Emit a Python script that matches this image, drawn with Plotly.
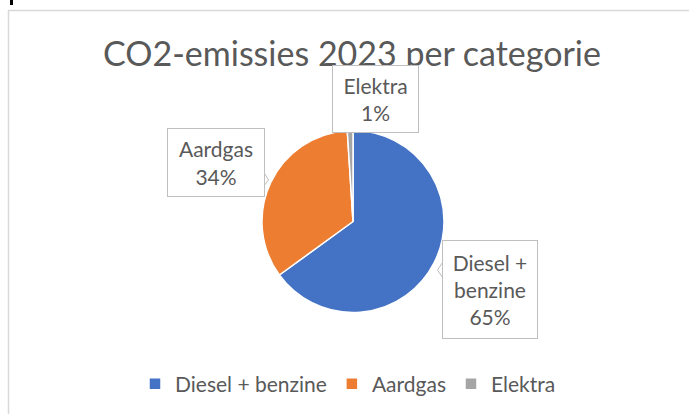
import plotly.graph_objects as go

# Data
categories = ["Diesel + benzine", "Aardgas", "Elektra"]
values = [65, 34, 1]
colors = ["#4472C4", "#ED7D31", "#A5A5A5"]
title_text = "CO2-emissies 2023 per categorie"

W, H = 689, 414
FONT = "Lato"
GREY_TEXT = "#595959"
BOX_LINE = "#BFBFBF"


def px(x):
    return x / W


def py(y):
    return 1 - y / H


# pie geometry (pixels)
cx, cy, r = 353, 221.5, 91

fig = go.Figure()
fig.add_trace(go.Pie(
    labels=categories,
    values=values,
    sort=False,
    direction="clockwise",
    rotation=0,
    marker=dict(colors=colors, line=dict(color="white", width=1.5)),
    textinfo="none",
    domain=dict(x=[px(cx - r), px(cx + r)], y=[py(cy + r), py(cy - r)]),
    showlegend=True,
))

total = sum(values)
# label boxes: (center x, center y, width, height) in pixels
boxes = [
    (489.5, 289.5, 92, 95),
    (215.5, 162.5, 94, 65),
    (375.5, 99.0, 83, 64),
]
annotations = []
for cat, val, (bx, by, bw, bh) in zip(categories, values, boxes):
    pct = round(100 * val / total)
    txt = cat.replace(" + ", " +<br>") + f"<br>{pct}%"
    annotations.append(dict(
        x=px(bx), y=py(by), xref="paper", yref="paper",
        xanchor="center", yanchor="middle",
        text=txt, showarrow=False,
        font=dict(family=FONT, size=21, color=GREY_TEXT),
        bordercolor=BOX_LINE, borderwidth=1, bgcolor="white",
        width=bw, height=bh, align="center", valign="middle",
    ))

shapes = [
    # chart frame
    dict(type="rect", xref="paper", yref="paper",
         x0=px(8.5), x1=1.02, y0=-0.02, y1=py(10.5),
         line=dict(color="#D9D9D9", width=1.5), fillcolor="rgba(0,0,0,0)", layer="below"),
    # small black mark top-left
    dict(type="rect", xref="paper", yref="paper",
         x0=px(10), x1=px(13), y0=py(5), y1=1.0,
         line=dict(width=0), fillcolor="black"),
    # callout notches
    dict(type="path", xref="paper", yref="paper",
         path=f"M {px(263)},{py(171)} L {px(268.5)},{py(180)} L {px(263)},{py(187)}",
         line=dict(color=BOX_LINE, width=1), fillcolor="white", layer="above"),
    dict(type="path", xref="paper", yref="paper",
         path=f"M {px(443.5)},{py(261)} L {px(437.5)},{py(270)} L {px(443.5)},{py(279)}",
         line=dict(color=BOX_LINE, width=1), fillcolor="white", layer="above"),
]

fig.update_layout(
    width=W, height=H,
    margin=dict(l=0, r=0, t=0, b=0),
    autosize=False,
    paper_bgcolor="white",
    plot_bgcolor="white",
    title=dict(text=title_text, x=px(352), xanchor="center", xref="paper",
               y=py(54), yanchor="middle", yref="paper",
               font=dict(family=FONT, size=34, color=GREY_TEXT)),
    legend=dict(orientation="h", x=px(348), xanchor="center", y=py(384), yanchor="middle",
                font=dict(family=FONT, size=21, color=GREY_TEXT),
                bgcolor="rgba(0,0,0,0)", itemclick=False),
    annotations=annotations,
    shapes=shapes,
)

fig.write_html("out.html", config={"displayModeBar": False},
               post_script="document.body.style.margin='0';")
